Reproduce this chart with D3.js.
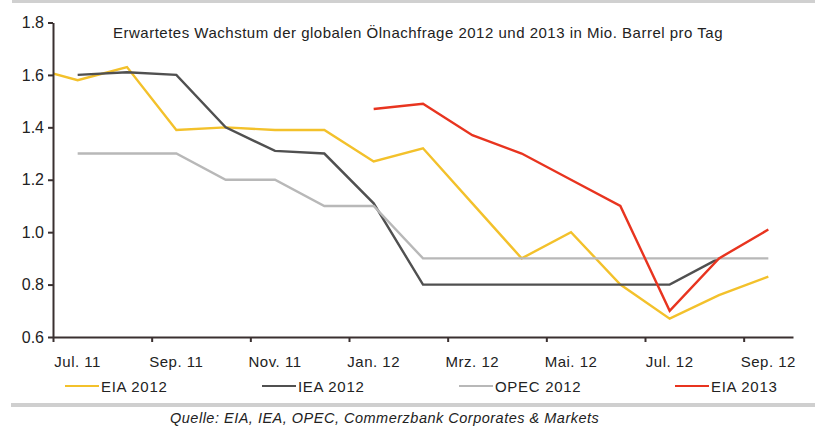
<html>
<head>
<script src="https://cdnjs.cloudflare.com/ajax/libs/d3/7.8.5/d3.min.js"></script>
<style>
  body { margin: 0; background: #fff; }
  svg text { font-family: "Liberation Sans", Arial, sans-serif; fill: #222; }
</style>
</head>
<body>
<svg width="815" height="427"></svg>
<script>
// months as index, 0 = Jul. 11 ... 14 = Sep. 12 (-1 = Jun. 11, clipped)
var months = [-1,0,1,2,3,4,5,6,7,8,9,10,11,12,13,14];
var tickLabels = ["Jul. 11","Sep. 11","Nov. 11","Jan. 12","Mrz. 12","Mai. 12","Jul. 12","Sep. 12"];
var yTicks = [0.6,0.8,1.0,1.2,1.4,1.6,1.8];

var eia2012  = [1.63,1.58,1.63,1.39,1.40,1.39,1.39,1.27,1.32,1.11,0.90,1.00,0.80,0.67,0.76,0.83];
var iea2012  = [null,1.60,1.61,1.60,1.40,1.31,1.30,1.11,0.80,0.80,0.80,0.80,0.80,0.80,0.90,null];
var opec2012 = [null,1.30,1.30,1.30,1.20,1.20,1.10,1.10,0.90,0.90,0.90,0.90,0.90,0.90,0.90,0.90];
var eia2013  = [null,null,null,null,null,null,null,1.47,1.49,1.37,1.30,1.20,1.10,0.70,0.90,1.01];

var series = [
  {name:"EIA 2012", values:eia2012, color:"#f3c12b"},
  {name:"IEA 2012", values:iea2012, color:"#505050"},
  {name:"OPEC 2012", values:opec2012, color:"#b8b8b8"},
  {name:"EIA 2013", values:eia2013, color:"#e8341f"}
];

var svg = d3.select("svg");
var plotL = 53, plotR = 793, plotT = 22.5, plotB = 337;

var x = d3.scaleLinear().domain([-0.5, 14.5]).range([plotL, plotR]);
var y = d3.scaleLinear().domain([0.6, 1.8]).range([plotB, plotT]);

// frame lines
svg.append("rect").attr("x", 12).attr("y", 0).attr("width", 803).attr("height", 3).style("fill", "#d0d0d0");
svg.append("rect").attr("x", 11).attr("y", 403).attr("width", 804).attr("height", 4).style("fill", "#cfcfcf");

svg.append("text")
  .attr("x", 418).attr("y", 38)
  .attr("text-anchor", "middle")
  .style("font-size", "15px").style("letter-spacing", "0.5px")
  .text("Erwartetes Wachstum der globalen Ölnachfrage 2012 und 2013 in Mio. Barrel pro Tag");

svg.append("clipPath").attr("id", "plot")
  .append("rect").attr("x", plotL).attr("y", 0).attr("width", plotR - plotL).attr("height", 400);

var line = d3.line()
  .defined(function(d){ return d.v != null; })
  .x(function(d){ return x(d.m); })
  .y(function(d){ return y(d.v); });

series.forEach(function(s){
  var pts = months.map(function(m, i){ return {m:m, v:s.values[i]}; });
  svg.append("path")
    .attr("d", line(pts))
    .attr("clip-path", "url(#plot)")
    .style("fill", "none")
    .style("stroke", s.color)
    .style("stroke-width", 2.4)
    .style("stroke-linejoin", "miter");
});

// y axis
var yAxis = svg.append("g").attr("transform", "translate(" + plotL + ",0)")
  .call(d3.axisLeft(y).tickValues(yTicks).tickFormat(d3.format(".1f")).tickSize(5).tickSizeOuter(0));
// x axis
var xTickPos = d3.range(-0.5, 14.5, 2);
var xAxis = svg.append("g").attr("transform", "translate(0," + plotB + ")")
  .call(d3.axisBottom(x).tickValues(xTickPos).tickFormat("").tickSize(5).tickSizeOuter(0));

[yAxis, xAxis].forEach(function(g){
  g.select(".domain").style("stroke", "#3a3030").style("stroke-width", 2);
  g.selectAll(".tick line").style("stroke", "#3a3030").style("stroke-width", 2);
});
yAxis.selectAll(".tick text")
  .attr("x", -9)
  .style("font-family", "Liberation Sans, Arial, sans-serif")
  .style("font-size", "16px").style("fill", "#222");

svg.append("g").selectAll("text")
  .data(tickLabels).enter().append("text")
  .attr("x", function(d, i){ return x(i * 2); })
  .attr("y", 367)
  .attr("text-anchor", "middle")
  .style("font-size", "15px").style("letter-spacing", "0.5px")
  .text(function(d){ return d; });

// legend
var legX = [65, 262, 459, 675];
var leg = svg.append("g").selectAll("g").data(series).enter().append("g")
  .attr("transform", function(d, i){ return "translate(" + legX[i] + ",386)"; });
leg.append("line").attr("x1", 0).attr("x2", 34).attr("y1", 0).attr("y2", 0)
  .style("stroke", function(d){ return d.color; }).style("stroke-width", 2);
leg.append("text").attr("x", 36).attr("y", 5.5)
  .style("font-size", "15px").style("letter-spacing", "0.7px")
  .text(function(d){ return d.name; });

svg.append("text")
  .attr("x", 170).attr("y", 423)
  .style("font-size", "14.5px").style("font-style", "italic").style("letter-spacing", "0.5px")
  .text("Quelle: EIA, IEA, OPEC, Commerzbank Corporates & Markets");
</script>
</body>
</html>
